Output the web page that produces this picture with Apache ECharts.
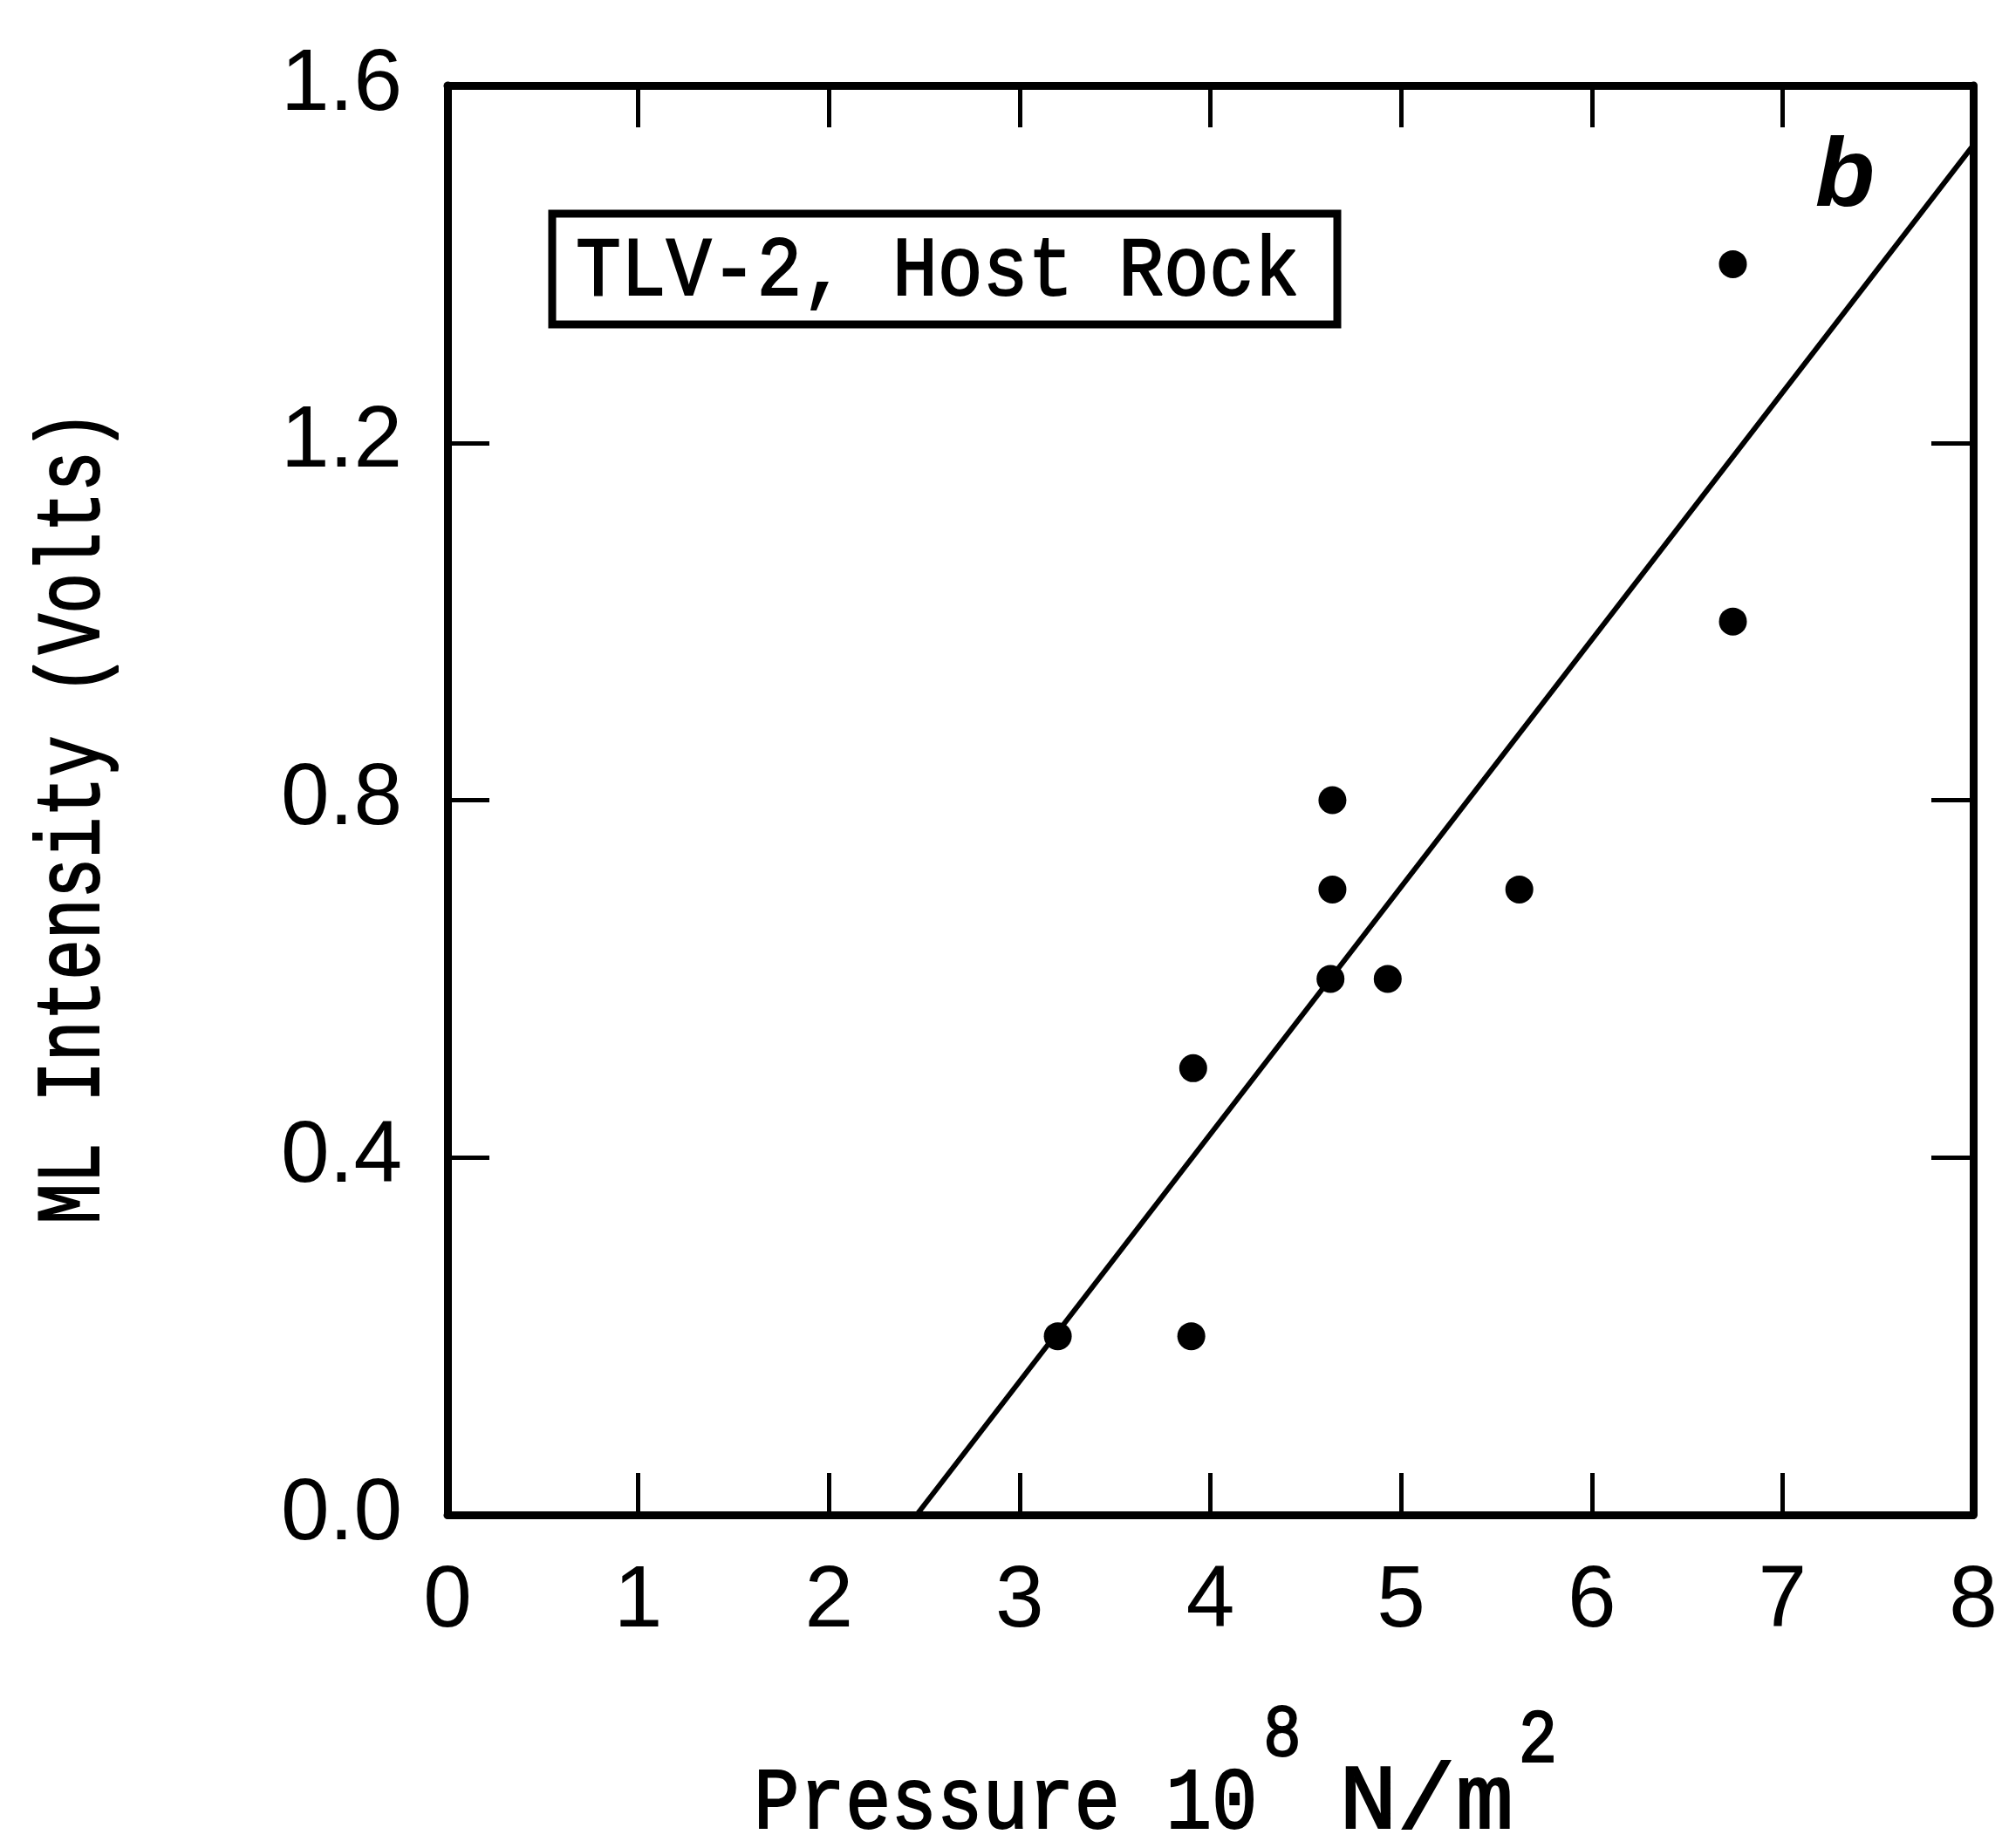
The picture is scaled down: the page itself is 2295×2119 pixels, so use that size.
<!DOCTYPE html>
<html lang="en">
<head>
    <meta charset="UTF-8">
    <title>ML Intensity vs Pressure</title>
    <script src="https://cdn.jsdelivr.net/npm/echarts@6/dist/echarts.min.js"></script>
    <style>
        html, body { margin: 0; padding: 0; background: #fff; }
        #main { width: 2295px; height: 2119px; }
    </style>
</head>
<body>
<div id="main"></div>
<script type="text/javascript">
    // measured points
    var pressure  = [3.20, 3.90, 3.91, 4.64, 4.64, 4.63, 4.93, 5.62, 6.74, 6.74];
    var intensity = [0.20, 0.20, 0.50, 0.80, 0.70, 0.60, 0.60, 0.70, 1.00, 1.40];

    // fitted line end points
    var fitPressure  = [2.46, 8.0];
    var fitIntensity = [0.0, 1.533];

    // axes
    var xRange = [0, 8], xStep = 1;
    var yRange = [0, 1.6], yStep = 0.4;

    var boxText = 'TLV-2, Host Rock';
    var yTitle = 'ML Intensity (Volts)';

    var monoFont = "'Liberation Mono', 'Courier New', monospace";
    var sansFont = "'Liberation Sans', Arial, sans-serif";

    var points = pressure.map(function (p, i) { return [p, intensity[i]]; });
    var fit = fitPressure.map(function (p, i) { return [p, fitIntensity[i]]; });

    var myChart = echarts.init(document.getElementById('main'));

    var lineStyle = { color: '#000', width: 9 };
    var tickStyle = { color: '#000', width: 5 };

    // frame axis (top / right copies have no labels)
    function axis(kind, pos, range, step, labels) {
        var a = {
            type: 'value', min: range[0], max: range[1], interval: step,
            position: pos,
            axisLine: { onZero: false, lineStyle: lineStyle },
            axisTick: { inside: true, length: 48, lineStyle: tickStyle },
            axisLabel: { show: false },
            splitLine: { show: false }
        };
        if (labels) {
            a.axisLabel = {
                margin: kind == 'x' ? 50 : 52,
                fontSize: 100, color: '#000', fontFamily: sansFont,
                formatter: function (v) { return kind == 'x' ? String(v) : v.toFixed(1); }
            };
        }
        return a;
    }

    // typewriter-ish text, slightly thickened with a stroke
    function mono(text, x, y, size, sx, align, extra) {
        var t = {
            type: 'text', x: x, y: y, scaleX: sx,
            style: {
                text: text, font: size + 'px ' + monoFont, fill: '#000',
                stroke: '#000', lineWidth: 2,
                align: align, verticalAlign: 'middle'
            }
        };
        if (extra) t.rotation = extra;
        return t;
    }

    var option = {
        animation: false,
        backgroundColor: '#fff',
        grid: { left: 513, right: 33, top: 98, bottom: 382 },
        xAxis: [
            axis('x', 'bottom', xRange, xStep, true),
            axis('x', 'top', xRange, xStep, false)
        ],
        yAxis: [
            axis('y', 'left', yRange, yStep, true),
            axis('y', 'right', yRange, yStep, false)
        ],
        graphic: [
            // annotation box
            {
                type: 'rect', shape: { x: 633, y: 245, width: 900, height: 127 },
                style: { fill: 'none', stroke: '#000', lineWidth: 9 }
            },
            mono(boxText, 660, 313, 96, 0.9, 'left'),
            {
                type: 'text', x: 2115, y: 205,
                style: { text: 'b', font: 'italic bold 112px ' + sansFont, fill: '#000', align: 'center', verticalAlign: 'middle' }
            },
            // y axis title
            mono(yTitle, 86, 937, 103, 0.755, 'center', Math.PI / 2),
            // x axis title with superscripts
            mono('Pressure 10', 864, 2070, 100, 0.875, 'left'),
            mono('8', 1470, 1990, 86, 0.85, 'center'),
            mono('N/m', 1535, 2068, 106, 1.05, 'left'),
            mono('2', 1763, 1997, 88, 0.85, 'center')
        ],
        series: [
            {
                type: 'line',
                data: fit,
                showSymbol: false,
                lineStyle: { color: '#000', width: 6 },
                z: 2
            },
            {
                type: 'scatter',
                data: points,
                symbol: 'circle',
                symbolSize: 32,
                itemStyle: { color: '#000', opacity: 1 },
                z: 3
            }
        ]
    };

    myChart.setOption(option);
</script>
</body>
</html>
